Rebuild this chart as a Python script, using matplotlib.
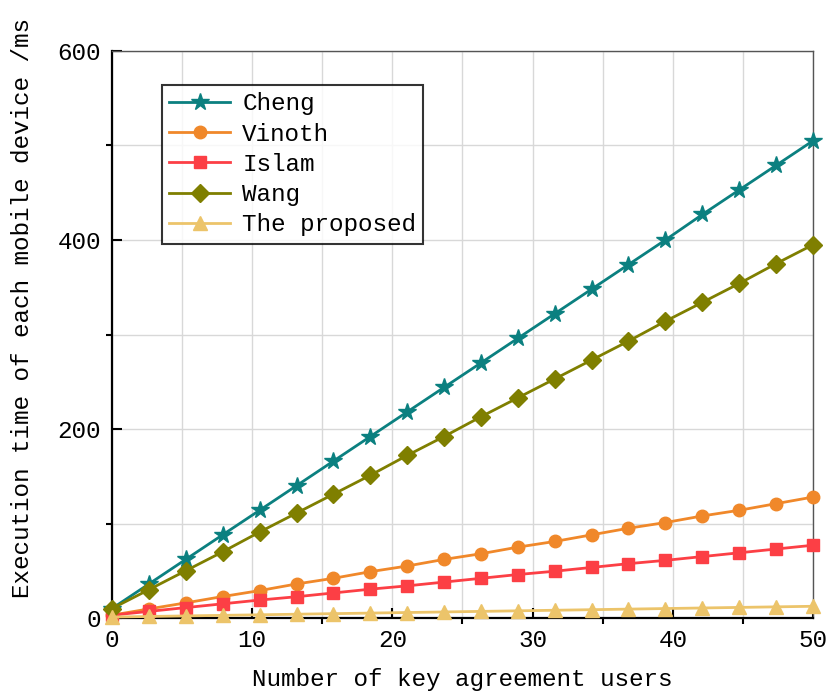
import matplotlib
matplotlib.use("Agg")
import matplotlib.pyplot as plt
from matplotlib.ticker import MultipleLocator

x = [0, 2.63, 5.26, 7.89, 10.53, 13.16, 15.79, 18.42, 21.05, 23.68,
     26.32, 28.95, 31.58, 34.21, 36.84, 39.47, 42.11, 44.74, 47.37, 50]
cheng = [10, 36, 62, 88, 114, 140, 166, 192, 218, 244,
         270, 296, 322, 348, 374, 400, 427, 453, 479, 505]
vinoth = [3, 9.6, 16, 22.7, 29, 36, 42, 49, 55, 62,
          68, 75, 81, 88, 95, 101, 108, 114, 121, 128]
islam = [3, 7, 11, 15, 19, 22.5, 26.5, 30.5, 34, 38,
         42, 46, 49.5, 53.5, 57.5, 61, 65, 69, 73, 77]
wang = [10, 30, 50, 70, 91, 111, 131, 151, 172, 192,
        213, 233, 253, 273, 293, 314, 334, 354, 375, 395]
proposed = [1, 1.6, 2.2, 2.8, 3.4, 4, 4.6, 5.2, 5.8, 6.4,
            7, 7.6, 8.2, 8.8, 9.4, 10, 10.6, 11.2, 11.8, 12.4]

labels = ["Cheng", "Vinoth", "Islam", "Wang", "The proposed"]
colors = ["#0b8080", "#f0882a", "#fc3f45", "#7f7f00", "#ecc46a"]
markers = ["*", "o", "s", "D", "^"]
msizes = [13, 9, 9, 9, 10]

plt.rcParams['font.family'] = ['Liberation Mono', 'DejaVu Sans Mono']
fs = 17.5

fig = plt.figure(figsize=(8.28, 6.93), dpi=100)
ax = fig.add_axes([112/828, 1-618/693, (813-112)/828, (618-51)/693])

for ys, lab, c, m, ms in zip([cheng, vinoth, islam, wang, proposed], labels, colors, markers, msizes):
    ax.plot(x, ys, color=c, marker=m, markersize=ms, linewidth=2, label=lab, zorder=3, clip_on=False)

ax.set_xlim(0, 50)
ax.set_ylim(0, 600)
ax.xaxis.set_major_locator(MultipleLocator(10))
ax.xaxis.set_minor_locator(MultipleLocator(5))
ax.yaxis.set_major_locator(MultipleLocator(200))
ax.yaxis.set_minor_locator(MultipleLocator(100))
ax.grid(True, which='both', color='#d8d8d8', linewidth=1, zorder=0)
ax.set_axisbelow(True)

ax.tick_params(which='major', direction='in', length=7, width=1.5, labelsize=fs, pad=8)
ax.tick_params(which='minor', direction='out', length=4.5, width=1.5)
ax.tick_params(top=False, right=False, which='both')

for s in ['left', 'bottom']:
    ax.spines[s].set_linewidth(1.6)
    ax.spines[s].set_color('black')
for s in ['top', 'right']:
    ax.spines[s].set_linewidth(1)
    ax.spines[s].set_color('#555555')

ax.set_xlabel("Number of key agreement users", fontsize=fs)
ax.xaxis.set_label_coords(0.5, (618-668)/567)
ax.set_ylabel("Execution time of each mobile device /ms", fontsize=fs)
ax.yaxis.set_label_coords((34-112)/701, (618-308)/567)

leg = ax.legend(loc='upper left', bbox_to_anchor=(50/701, (618-85)/567), borderaxespad=0,
                fontsize=fs, frameon=True, fancybox=False, edgecolor='black',
                handlelength=2.5, handletextpad=0.5, labelspacing=0.3, borderpad=0.3)
leg.get_frame().set_linewidth(1.5)

fig.savefig("out.png", dpi=100)
